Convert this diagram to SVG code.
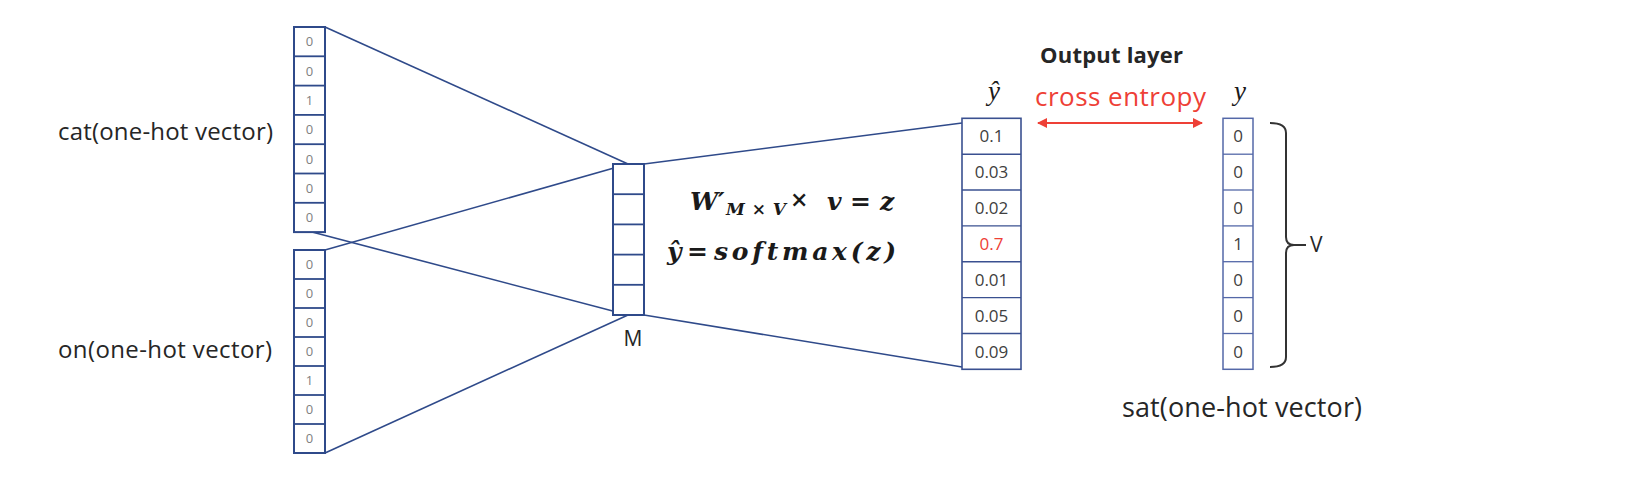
<svg xmlns="http://www.w3.org/2000/svg" width="1648" height="478" viewBox="0 0 1648 478">
<style>
.bg{fill:#ffffff}
.vec{fill:#ffffff;stroke:#2F4A8A;stroke-width:2}
.div{stroke:#2F4A8A;stroke-width:1.8}
.vec2{fill:#ffffff;stroke:#3A5090;stroke-width:1.6}
.div2{stroke:#3A5090;stroke-width:1.4}
.vec3{fill:#ffffff;stroke:#5468A8;stroke-width:1.5}
.div3{stroke:#5468A8;stroke-width:1.3}
.conn{stroke:#2F4A8A;stroke-width:1.6;fill:none}
.lbl{font-family:"Open Sans","Noto Sans",sans-serif;fill:#262626}
.sm{font-family:"Open Sans","Noto Sans",sans-serif;font-size:13px;fill:#808080;text-anchor:middle}
.md{font-family:"Open Sans","Noto Sans",sans-serif;font-size:17px;fill:#404040;text-anchor:middle}
.red{fill:#EE4036}
.math{font-family:"DejaVu Serif","Liberation Serif",serif;font-weight:bold;font-style:italic;fill:#1a1a1a}
.mup{font-family:"DejaVu Serif","Liberation Serif",serif;font-weight:bold;fill:#1a1a1a}
.mi{font-family:"Liberation Serif","DejaVu Serif",serif;font-style:italic;fill:#1a1a1a}
</style>
<defs>
<marker id="ah" viewBox="0 0 10 10" refX="9" refY="5" markerWidth="5" markerHeight="5" orient="auto-start-reverse">
<path d="M0,0 L10,5 L0,10 z" fill="#EE4036"/>
</marker>
</defs>
<rect class="bg" x="0" y="0" width="1648" height="478"/>

<g id="connectors">
<line class="conn" x1="325" y1="27" x2="628" y2="164"/>
<line class="conn" x1="312" y1="232" x2="628" y2="315"/>
<line class="conn" x1="325" y1="250" x2="628" y2="164"/>
<line class="conn" x1="325" y1="453" x2="628" y2="315"/>
<line class="conn" x1="644" y1="164" x2="962" y2="123"/>
<line class="conn" x1="644" y1="315" x2="962" y2="367"/>
<line x1="1038" y1="123" x2="1202" y2="123" stroke="#EE4036" stroke-width="2" marker-start="url(#ah)" marker-end="url(#ah)"/>
</g>

<g id="cat">
<rect class="vec" x="294" y="27" width="31" height="205.1"/>
<line class="div" x1="294" y1="56.3" x2="325" y2="56.3"/>
<line class="div" x1="294" y1="85.6" x2="325" y2="85.6"/>
<line class="div" x1="294" y1="114.9" x2="325" y2="114.9"/>
<line class="div" x1="294" y1="144.2" x2="325" y2="144.2"/>
<line class="div" x1="294" y1="173.5" x2="325" y2="173.5"/>
<line class="div" x1="294" y1="202.8" x2="325" y2="202.8"/>
<text class="sm" x="309.5" y="46.3">0</text>
<text class="sm" x="309.5" y="75.6">0</text>
<text class="sm" x="309.5" y="104.9">1</text>
<text class="sm" x="309.5" y="134.2">0</text>
<text class="sm" x="309.5" y="163.5">0</text>
<text class="sm" x="309.5" y="192.8">0</text>
<text class="sm" x="309.5" y="222.1">0</text>
<text class="lbl" x="58" y="140" font-size="24" textLength="215" lengthAdjust="spacing">cat(one-hot vector)</text>
</g>

<g id="on">
<rect class="vec" x="294" y="250" width="31" height="203"/>
<line class="div" x1="294" y1="279" x2="325" y2="279"/>
<line class="div" x1="294" y1="308" x2="325" y2="308"/>
<line class="div" x1="294" y1="337" x2="325" y2="337"/>
<line class="div" x1="294" y1="366" x2="325" y2="366"/>
<line class="div" x1="294" y1="395" x2="325" y2="395"/>
<line class="div" x1="294" y1="424" x2="325" y2="424"/>
<text class="sm" x="309.5" y="269.2">0</text>
<text class="sm" x="309.5" y="298.2">0</text>
<text class="sm" x="309.5" y="327.2">0</text>
<text class="sm" x="309.5" y="356.2">0</text>
<text class="sm" x="309.5" y="385.2">1</text>
<text class="sm" x="309.5" y="414.2">0</text>
<text class="sm" x="309.5" y="443.2">0</text>
<text class="lbl" x="58" y="358" font-size="24" textLength="214" lengthAdjust="spacing">on(one-hot vector)</text>
</g>

<g id="hidden">
<rect class="vec" x="613" y="164" width="31" height="151"/>
<line class="div" x1="613" y1="194.2" x2="644" y2="194.2"/>
<line class="div" x1="613" y1="224.4" x2="644" y2="224.4"/>
<line class="div" x1="613" y1="254.6" x2="644" y2="254.6"/>
<line class="div" x1="613" y1="284.8" x2="644" y2="284.8"/>
<text class="lbl" x="633" y="346" font-size="21" text-anchor="middle">M</text>
</g>

<g id="formula">
<text class="math" x="690" y="210" font-size="25">W′</text>
<text class="math" x="726" y="215" font-size="17" textLength="60" lengthAdjust="spacing">M×V</text>
<text class="mup" x="790" y="207" font-size="22">×</text>
<text class="math" x="827" y="210" font-size="25">v</text>
<text class="mup" x="850" y="210" font-size="25">=</text>
<text class="math" x="880" y="210" font-size="25">z</text>
<text class="math" x="667" y="260" font-size="25">ŷ</text>
<text class="mup" x="687" y="260" font-size="25">=</text>
<text class="math" x="714" y="260" font-size="25" textLength="182" lengthAdjust="spacing">softmax(z)</text>
</g>

<g id="output">
<text class="lbl" x="1040" y="63" font-size="22" font-weight="bold" textLength="143" lengthAdjust="spacing">Output layer</text>
<text class="mi" x="994" y="100" font-size="27" text-anchor="middle">ŷ</text>
<rect class="vec2" x="962" y="118.3" width="59" height="251"/>
<line class="div2" x1="962" y1="154.2" x2="1021" y2="154.2"/>
<line class="div2" x1="962" y1="190" x2="1021" y2="190"/>
<line class="div2" x1="962" y1="225.9" x2="1021" y2="225.9"/>
<line class="div2" x1="962" y1="261.7" x2="1021" y2="261.7"/>
<line class="div2" x1="962" y1="297.6" x2="1021" y2="297.6"/>
<line class="div2" x1="962" y1="333.5" x2="1021" y2="333.5"/>
<text class="md" x="991.5" y="142.4">0.1</text>
<text class="md" x="991.5" y="178.3">0.03</text>
<text class="md" x="991.5" y="214.2">0.02</text>
<text class="md red" x="991.5" y="250">0.7</text>
<text class="md" x="991.5" y="285.9">0.01</text>
<text class="md" x="991.5" y="321.7">0.05</text>
<text class="md" x="991.5" y="357.6">0.09</text>
</g>

<g id="cross-entropy">
<text class="lbl red" x="1035" y="106" font-size="26" textLength="171" lengthAdjust="spacing">cross entropy</text>
</g>

<g id="target">
<text class="mi" x="1240" y="100" font-size="27" text-anchor="middle">y</text>
<rect class="vec3" x="1223" y="118.3" width="30" height="251"/>
<line class="div3" x1="1223" y1="154.2" x2="1253" y2="154.2"/>
<line class="div3" x1="1223" y1="190" x2="1253" y2="190"/>
<line class="div3" x1="1223" y1="225.9" x2="1253" y2="225.9"/>
<line class="div3" x1="1223" y1="261.7" x2="1253" y2="261.7"/>
<line class="div3" x1="1223" y1="297.6" x2="1253" y2="297.6"/>
<line class="div3" x1="1223" y1="333.5" x2="1253" y2="333.5"/>
<text class="md" x="1238" y="142.4">0</text>
<text class="md" x="1238" y="178.3">0</text>
<text class="md" x="1238" y="214.2">0</text>
<text class="md" x="1238" y="250">1</text>
<text class="md" x="1238" y="285.9">0</text>
<text class="md" x="1238" y="321.7">0</text>
<text class="md" x="1238" y="357.6">0</text>
<text class="lbl" x="1122" y="417" font-size="27" textLength="240" lengthAdjust="spacing">sat(one-hot vector)</text>
</g>

<g id="brace">
<path d="M1270,123 Q1286,123 1286,133 L1286,237 Q1286,245 1294,245 L1306,245 M1294,245 Q1286,245 1286,253 L1286,357 Q1286,367 1270,367" fill="none" stroke="#333333" stroke-width="2"/>
<text class="lbl" x="1310" y="252" font-size="21">V</text>
</g>
</svg>
